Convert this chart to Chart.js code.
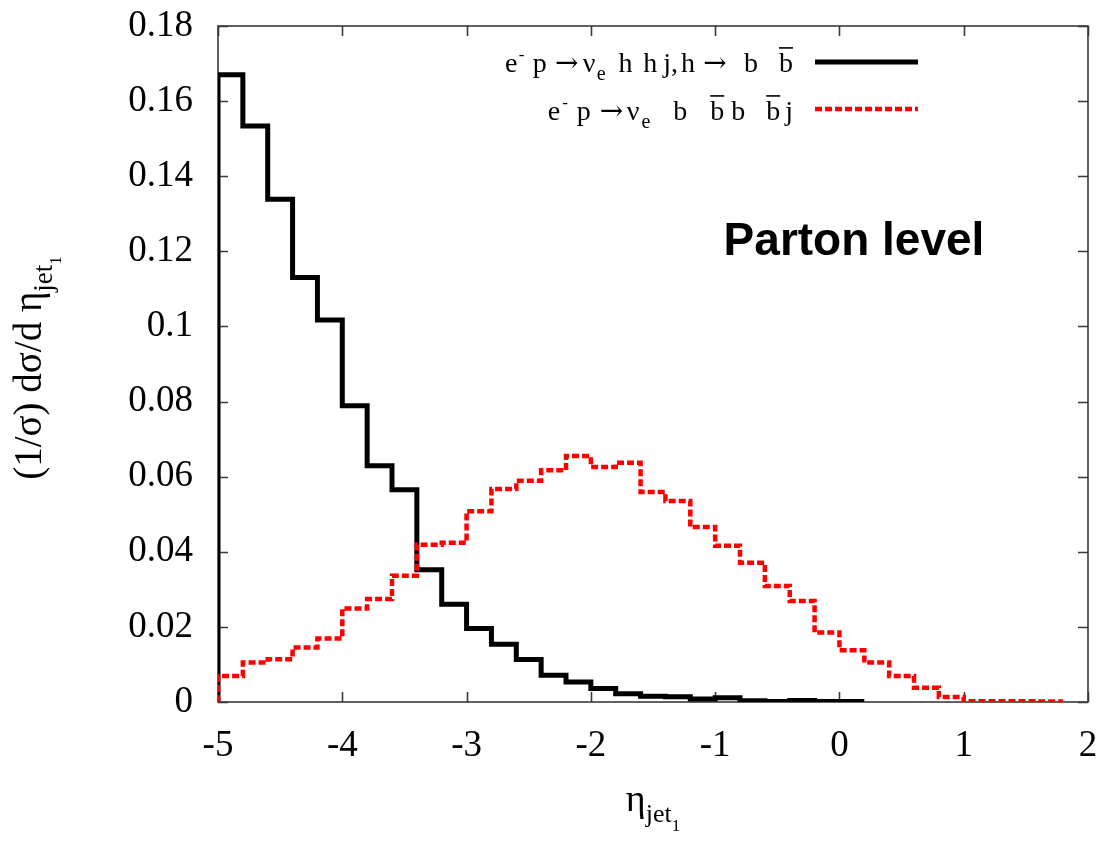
<!DOCTYPE html>
<html>
<head>
<meta charset="utf-8">
<style>
  html, body { margin: 0; padding: 0; background: #ffffff; }
  #wrap { width: 1103px; height: 844px; }
</style>
<script src="https://cdn.jsdelivr.net/npm/chart.js@4.4.1/dist/chart.umd.min.js"></script>
</head>
<body>
<div id="wrap"><canvas id="c" width="1103" height="844"></canvas></div>
<script>
// Bin edges of the eta(jet1) histograms (bin width 0.2)
const binEdges = [-5.0, -4.8, -4.6, -4.4, -4.2, -4.0, -3.8, -3.6, -3.4, -3.2,
                  -3.0, -2.8, -2.6, -2.4, -2.2, -2.0, -1.8, -1.6, -1.4, -1.2,
                  -1.0, -0.8, -0.6, -0.4, -0.2, 0.0, 0.2, 0.4, 0.6, 0.8,
                  1.0, 1.2, 1.4, 1.6, 1.8];

// Normalised distribution, signal e- p -> nu_e h h j, h -> b bbar
const signalHist = [0.1670, 0.1534, 0.1339, 0.1130, 0.1017, 0.0789, 0.0629, 0.0565, 0.0352, 0.0260,
                    0.0196, 0.0154, 0.0113, 0.0071, 0.0053, 0.0036, 0.0022, 0.0015, 0.0014, 0.0008,
                    0.0011, 0.0003, 0.0001, 0.0004, 0.0001, 0.0001];

// Normalised distribution, background e- p -> nu_e b bbar b bbar j
const backgroundHist = [0.0069, 0.0105, 0.0114, 0.0145, 0.0169, 0.0249, 0.0274, 0.0336, 0.0419, 0.0424,
                        0.0508, 0.0567, 0.0589, 0.0617, 0.0655, 0.0626, 0.0637, 0.0559, 0.0535, 0.0466,
                        0.0416, 0.0371, 0.0309, 0.0269, 0.0185, 0.0138, 0.0105, 0.0069, 0.0038, 0.0013,
                        0.0002, 0.0002, 0.0002, 0.0001];

const xTicks = [-5, -4, -3, -2, -1, 0, 1, 2];
const yTicks = [0, 0.02, 0.04, 0.06, 0.08, 0.1, 0.12, 0.14, 0.16, 0.18];

const SERIF = '"Liberation Serif", "Times New Roman", serif';
const ARROW = '"DejaVu Serif", "Liberation Serif", serif';
const SANS = '"Liberation Sans", Arial, sans-serif';

// Histogram outline: rise from zero at the first edge, one point per bin, close at the last edge
function histPoints(values) {
  const pts = [{ x: binEdges[0], y: 0 }];
  values.forEach((v, i) => pts.push({ x: binEdges[i], y: v }));
  pts.push({ x: binEdges[values.length], y: values[values.length - 1] });
  return pts;
}

// Draws a run of text pieces with sub/superscripts and overbars
function fontOf(p, size, family) {
  return `${Math.round(size * (p.s || 1))}px ${p.f || family}`;
}
function richWidth(ctx, parts, size, family) {
  let w = 0;
  for (const p of parts) {
    if (p.gap !== undefined) { w += p.gap * size; continue; }
    ctx.font = fontOf(p, size, family);
    w += ctx.measureText(p.t).width;
  }
  return w;
}
function drawRich(ctx, parts, x, y, size, family, align) {
  const total = richWidth(ctx, parts, size, family);
  let cx = align === 'right' ? x - total : (align === 'center' ? x - total / 2 : x);
  ctx.textBaseline = 'alphabetic';
  ctx.textAlign = 'left';
  for (const p of parts) {
    if (p.gap !== undefined) { cx += p.gap * size; continue; }
    ctx.font = fontOf(p, size, family);
    const pw = ctx.measureText(p.t).width;
    ctx.fillText(p.t, cx, y + (p.dy || 0) * size);
    if (p.bar) {
      ctx.save();
      ctx.lineWidth = 1.6;
      ctx.beginPath();
      ctx.moveTo(cx, y - size * 0.86);
      ctx.lineTo(cx + pw, y - size * 0.86);
      ctx.stroke();
      ctx.restore();
    }
    cx += pw;
  }
}

const legendSignal = [
  { t: 'e' }, { gap: 0.05 }, { t: '-', s: 0.6, dy: -0.42 }, { gap: 0.30 }, { t: 'p' }, { gap: 0.29 },
  { t: '→', f: ARROW }, { gap: 0.16 }, { t: 'ν' }, { gap: 0.04 }, { t: 'e', s: 0.72, dy: 0.3 },
  { gap: 0.46 }, { t: 'h' }, { gap: 0.39 }, { t: 'h' }, { gap: 0.21 }, { t: 'j,' }, { gap: 0.11 },
  { t: 'h' }, { gap: 0.29 }, { t: '→', f: ARROW }, { gap: 0.62 }, { t: 'b' }, { gap: 0.75 },
  { t: 'b', bar: true }
];
const legendBackground = [
  { t: 'e' }, { gap: 0.07 }, { t: '-', s: 0.6, dy: -0.42 }, { gap: 0.32 }, { t: 'p' }, { gap: 0.32 },
  { t: '→', f: ARROW }, { gap: 0.125 }, { t: 'ν' }, { gap: 0.07 }, { t: 'e', s: 0.72, dy: 0.3 },
  { gap: 0.82 }, { t: 'b' }, { gap: 0.82 }, { t: 'b', bar: true }, { gap: 0.25 }, { t: 'b' },
  { gap: 0.75 }, { t: 'b', bar: true }, { gap: 0.18 }, { t: 'j' }
];
const yTitleParts = [
  { t: '(1/σ) dσ/d η' }, { t: 'jet', s: 0.68, dy: 0.28 }, { t: '1', s: 0.44, dy: 0.5 }
];
const xTitleParts = [
  { t: 'η' }, { t: 'jet', s: 0.68, dy: 0.3 }, { t: '1', s: 0.44, dy: 0.52 }
];

const FRAME = '#3a3a3a';

const decorations = {
  id: 'decorations',
  beforeDatasetsDraw(chart) {
    const { ctx, chartArea: a, scales } = chart;
    ctx.save();
    ctx.strokeStyle = FRAME;
    ctx.lineWidth = 1.6;
    ctx.strokeRect(a.left, a.top, a.right - a.left, a.bottom - a.top);
    ctx.beginPath();
    const tl = 10;
    for (const v of yTicks) {
      const py = Math.round(scales.y.getPixelForValue(v)) + 0.5;
      ctx.moveTo(a.left, py); ctx.lineTo(a.left + tl, py);
      ctx.moveTo(a.right, py); ctx.lineTo(a.right - tl, py);
    }
    for (const v of xTicks) {
      const px = Math.round(scales.x.getPixelForValue(v)) + 0.5;
      ctx.moveTo(px, a.bottom); ctx.lineTo(px, a.bottom - tl);
      ctx.moveTo(px, a.top); ctx.lineTo(px, a.top + tl);
    }
    ctx.stroke();
    ctx.restore();
  },
  afterDraw(chart) {
    const { ctx, chartArea: a } = chart;
    const ds = chart.data.datasets;
    ctx.save();
    ctx.fillStyle = '#000000';
    ctx.strokeStyle = '#000000';

    // key
    drawRich(ctx, legendSignal, 793, 72, 28, SERIF, 'right');
    drawRich(ctx, legendBackground, 793, 120, 28, SERIF, 'right');
    ctx.lineCap = 'butt';
    ctx.lineWidth = ds[0].borderWidth;
    ctx.strokeStyle = ds[0].borderColor;
    ctx.setLineDash([]);
    ctx.beginPath(); ctx.moveTo(815, 62); ctx.lineTo(918, 62); ctx.stroke();
    ctx.lineWidth = ds[1].borderWidth;
    ctx.strokeStyle = ds[1].borderColor;
    ctx.setLineDash(ds[1].borderDash);
    ctx.beginPath(); ctx.moveTo(815, 109); ctx.lineTo(918, 109); ctx.stroke();
    ctx.setLineDash([]);

    // label inside the frame
    ctx.fillStyle = '#000000';
    ctx.font = `bold 46px ${SANS}`;
    ctx.textAlign = 'center';
    ctx.textBaseline = 'alphabetic';
    ctx.fillText('Parton level', 854, 255);

    // axis titles
    ctx.strokeStyle = '#000000';
    drawRich(ctx, xTitleParts, (a.left + a.right) / 2, 811, 38, SERIF, 'center');
    ctx.save();
    ctx.translate(41, 368);
    ctx.rotate(-Math.PI / 2);
    drawRich(ctx, yTitleParts, 0, 0, 39, SERIF, 'center');
    ctx.restore();
    ctx.restore();
  }
};

new Chart(document.getElementById('c'), {
  type: 'line',
  data: {
    datasets: [
      {
        label: 'e- p → νe h h j, h → b b̄',
        data: histPoints(signalHist),
        borderColor: '#000000',
        borderWidth: 5,
        stepped: 'before',
        pointRadius: 0,
        fill: false,
        order: 1
      },
      {
        label: 'e- p → νe b b̄ b b̄ j',
        data: histPoints(backgroundHist),
        borderColor: '#ff0000',
        borderWidth: 4.5,
        borderDash: [7, 3],
        borderCapStyle: 'butt',
        stepped: 'before',
        pointRadius: 0,
        fill: false,
        order: 0
      }
    ]
  },
  options: {
    responsive: false,
    animation: false,
    devicePixelRatio: 1,
    layout: { padding: { left: 0, right: 15, top: 26, bottom: 0 } },
    plugins: {
      legend: { display: false },
      tooltip: { enabled: false },
      title: { display: false }
    },
    scales: {
      x: {
        type: 'linear',
        min: -5,
        max: 2,
        afterBuildTicks: s => { s.ticks = xTicks.map(v => ({ value: v })); },
        afterFit: s => { s.height = 142; s.paddingLeft = 0; s.paddingRight = 0; },
        grid: { display: false, drawTicks: false },
        border: { display: false },
        ticks: {
          color: '#000000',
          padding: 22,
          maxRotation: 0,
          font: { family: SERIF, size: 37 },
          callback: v => String(v)
        }
      },
      y: {
        type: 'linear',
        min: 0,
        max: 0.18,
        afterBuildTicks: s => { s.ticks = yTicks.map(v => ({ value: v })); },
        afterFit: s => { s.width = 218; s.paddingTop = 0; s.paddingBottom = 0; },
        grid: { display: false, drawTicks: false },
        border: { display: false },
        ticks: {
          color: '#000000',
          padding: 25,
          font: { family: SERIF, size: 37 },
          callback: v => String(Math.round(v * 100) / 100)
        }
      }
    }
  },
  plugins: [decorations]
});
</script>
</body>
</html>
